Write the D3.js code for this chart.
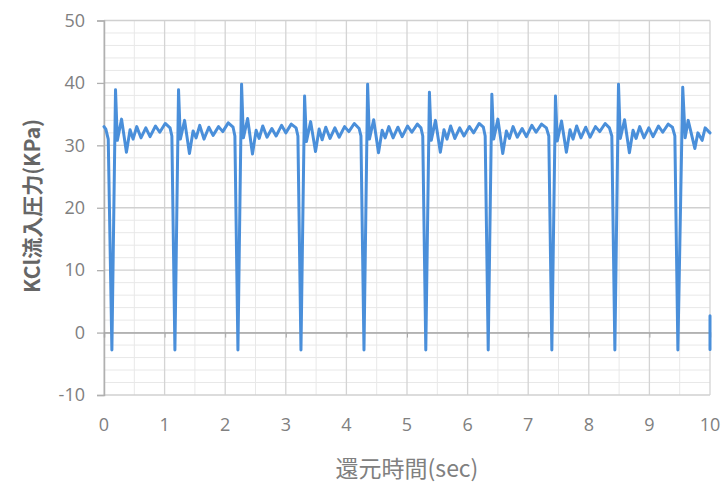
<!DOCTYPE html>
<html><head><meta charset="utf-8">
<script src="https://cdn.jsdelivr.net/npm/d3@7"></script>
<style>html,body{margin:0;padding:0;background:#fff;}svg{display:block;}</style>
</head><body>
<svg id="chart" width="726" height="486"></svg>
<script>
// ---- data ----
const yTicks = [-10, 0, 10, 20, 30, 40, 50];
const xTicks = [0, 1, 2, 3, 4, 5, 6, 7, 8, 9, 10];
const xTitle = "還元時間(sec)";
const yTitle = "KCl流入圧力(KPa)";
const timeSec = [
  0.00, 0.03, 0.07, 0.13,
  0.19, 0.22, 0.29, 0.37, 0.43, 0.48, 0.54, 0.61, 0.69, 0.76, 0.85, 0.92, 1.01, 1.09, 1.12, 1.17,
  1.23, 1.26, 1.33, 1.41, 1.47, 1.52, 1.58, 1.65, 1.73, 1.80, 1.89, 1.96, 2.05, 2.13, 2.16, 2.21,
  2.27, 2.30, 2.37, 2.45, 2.51, 2.56, 2.62, 2.69, 2.77, 2.84, 2.93, 3.00, 3.09, 3.17, 3.20, 3.25,
  3.31, 3.34, 3.41, 3.49, 3.55, 3.60, 3.66, 3.73, 3.81, 3.88, 3.97, 4.04, 4.13, 4.21, 4.24, 4.29,
  4.35, 4.38, 4.45, 4.53, 4.59, 4.64, 4.70, 4.77, 4.85, 4.92, 5.01, 5.08, 5.17, 5.23, 5.26, 5.31,
  5.37, 5.40, 5.47, 5.55, 5.61, 5.66, 5.72, 5.79, 5.87, 5.94, 6.03, 6.10, 6.19, 6.26, 6.29, 6.34,
  6.40, 6.43, 6.50, 6.58, 6.64, 6.69, 6.75, 6.82, 6.90, 6.97, 7.06, 7.13, 7.22, 7.30, 7.34, 7.39,
  7.45, 7.48, 7.55, 7.63, 7.69, 7.74, 7.80, 7.87, 7.95, 8.02, 8.11, 8.18, 8.27, 8.34, 8.38, 8.43,
  8.49, 8.52, 8.59, 8.67, 8.73, 8.78, 8.84, 8.91, 8.99, 9.06, 9.15, 9.22, 9.31, 9.38, 9.42, 9.47,
  9.55, 9.59, 9.64, 9.75, 9.80, 9.87, 9.92, 10.00,
  10.00, 10.00, 10.00
];
const pressureKPa = [
  33.0, 32.6, 31.0, -2.8,
  38.9, 30.8, 34.2, 28.9, 32.5, 31.0, 33.0, 31.2, 32.8, 31.4, 33.1, 32.1, 33.5, 32.8, 31.5, -2.8,
  38.9, 31.0, 34.0, 28.7, 32.3, 31.2, 33.2, 31.0, 32.9, 31.6, 33.0, 32.2, 33.6, 32.9, 31.5, -2.8,
  39.8, 31.2, 34.3, 28.6, 32.4, 31.1, 33.1, 31.3, 32.7, 31.5, 33.2, 32.0, 33.4, 32.8, 31.5, -2.8,
  37.9, 30.6, 33.8, 29.0, 32.6, 30.9, 32.9, 31.1, 32.8, 31.3, 33.0, 32.2, 33.5, 32.7, 31.5, -2.8,
  39.8, 31.0, 34.1, 28.8, 32.4, 31.2, 33.0, 31.2, 32.9, 31.4, 33.1, 32.1, 33.4, 32.8, 31.5, -2.8,
  38.5, 30.8, 34.0, 28.9, 32.5, 31.0, 33.1, 31.1, 32.8, 31.5, 33.0, 32.0, 33.5, 32.9, 31.5, -2.8,
  38.2, 31.0, 34.2, 28.7, 32.3, 31.1, 33.0, 31.3, 32.7, 31.4, 33.2, 32.1, 33.4, 32.8, 31.5, -2.8,
  37.9, 30.7, 33.9, 28.9, 32.5, 31.0, 33.1, 31.2, 32.9, 31.3, 33.0, 32.2, 33.5, 32.8, 31.5, -2.8,
  39.8, 31.1, 34.1, 28.8, 32.4, 31.1, 33.0, 31.2, 32.8, 31.4, 33.1, 32.1, 33.4, 32.9, 31.5, -2.8,
  39.3, 31.2, 34.0, 29.5, 32.0, 30.8, 32.8, 32.0,
  null, 2.7, -2.7
];

// ---- layout ----
const svg = d3.select("#chart");
const x = d3.scaleLinear().domain([0, 10]).range([104, 710]);
const y = d3.scaleLinear().domain([-10, 50]).range([395, 20.5]);
const textGray = "#808080";

const g = svg.append("g");
// minor grid
const xMinor = d3.range(0, 10.01, 0.5).filter(v => Math.abs(v - Math.round(v)) > 0.01);
const yMinor = d3.range(-10, 50.01, 2).filter(v => v % 10 !== 0);
g.selectAll(".xm").data(xMinor).join("line")
  .attr("x1", d => x(d)).attr("x2", d => x(d)).attr("y1", y(50)).attr("y2", y(-10))
  .attr("stroke", "#e8e8e8").attr("stroke-width", 1);
g.selectAll(".ym").data(yMinor).join("line")
  .attr("x1", x(0)).attr("x2", x(10)).attr("y1", d => y(d)).attr("y2", d => y(d))
  .attr("stroke", "#e8e8e8").attr("stroke-width", 1);
// major grid
g.selectAll(".xg").data(xTicks).join("line")
  .attr("x1", d => x(d)).attr("x2", d => x(d)).attr("y1", y(50)).attr("y2", y(-10))
  .attr("stroke", "#d4d4d4").attr("stroke-width", 1.3);
g.selectAll(".yg").data(yTicks).join("line")
  .attr("x1", x(0)).attr("x2", x(10)).attr("y1", d => y(d)).attr("y2", d => y(d))
  .attr("stroke", "#d0d0d0").attr("stroke-width", 1.3);

// y axis
const yAxis = d3.axisLeft(y).tickValues(yTicks).tickSize(7).tickPadding(12).tickFormat(d => String(d));
const ya = svg.append("g").attr("transform", `translate(${x(0)},0)`).call(yAxis);
ya.select(".domain").attr("stroke", "#b0b0b0").attr("stroke-width", 1.5);
ya.selectAll(".tick line").attr("stroke", "#b0b0b0").attr("stroke-width", 1.3);
ya.selectAll("text").attr("fill", textGray).style("font-family", "'Open Sans', sans-serif").style("font-size", "18px");

// horizontal axis at 0
const xAxis = d3.axisBottom(x).tickValues(xTicks).tickSize(5).tickFormat("");
const xa = svg.append("g").attr("transform", `translate(0,${y(0)})`).call(xAxis);
xa.select(".domain").attr("stroke", "#a8a8a8").attr("stroke-width", 1.5);
xa.selectAll(".tick line").attr("stroke", "#a8a8a8");
// tick labels at bottom
svg.append("g").selectAll("text").data(xTicks).join("text")
  .attr("x", d => x(d)).attr("y", 431).attr("text-anchor", "middle")
  .attr("fill", textGray).style("font-family", "'Open Sans', sans-serif").style("font-size", "18px")
  .text(d => String(d));

// titles
svg.append("text").attr("x", 407).attr("y", 477).attr("text-anchor", "middle")
  .attr("fill", textGray).style("font-family", "'Noto Sans CJK JP', sans-serif").style("font-size", "23px")
  .text(xTitle);
svg.append("text").attr("transform", "translate(40,206) rotate(-90)").attr("text-anchor", "middle")
  .attr("fill", "#666666").style("font-family", "'Noto Sans CJK JP', sans-serif").style("font-size", "21px")
  .style("font-weight", "bold")
  .text(yTitle);

// line
const pts = timeSec.map((t, i) => ({ t, v: pressureKPa[i] }));
const line = d3.line().defined(d => d.v !== null).x(d => x(d.t)).y(d => y(d.v));
svg.append("path").datum(pts).attr("d", line)
  .attr("fill", "none").attr("stroke", "#4a8fda").attr("stroke-width", 3)
  .attr("stroke-linejoin", "round").attr("stroke-linecap", "round");
</script>
</body></html>
